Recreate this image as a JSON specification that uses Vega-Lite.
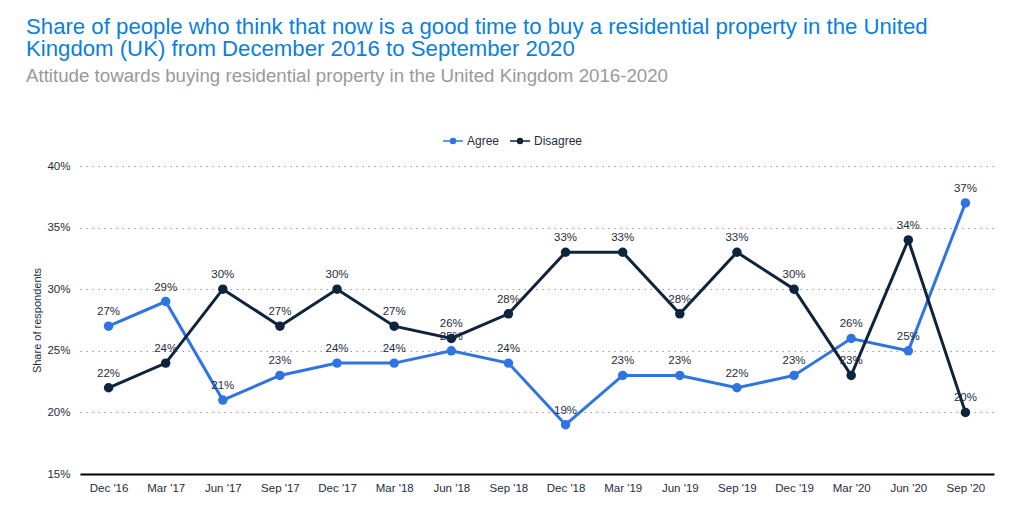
{
  "$schema": "https://vega.github.io/schema/vega-lite/v6.json",
  "autosize": "none",
  "width": 914,
  "height": 308,
  "padding": {"left": 80, "top": 166, "right": 41, "bottom": 42},
  "background": "white",
  "config": {
    "font": "Liberation Sans",
    "view": {"stroke": null}
  },
  "title": {
    "text": ["Share of people who think that now is a good time to buy a residential property in the United", "Kingdom (UK) from December 2016 to September 2020"],
    "subtitle": "Attitude towards buying residential property in the United Kingdom 2016-2020",
    "anchor": "start",
    "frame": "group",
    "dx": -54,
    "offset": 44,
    "fontSize": 22.2,
    "fontWeight": "normal",
    "lineHeight": 22.2,
    "color": "#0a7fe0",
    "subtitleFontSize": 18.7,
    "subtitleColor": "#999999",
    "subtitlePadding": 7
  },
  "data": {
    "values": [
      {"q": "Dec '16", "s": "Agree", "v": 0.27}, {"q": "Dec '16", "s": "Disagree", "v": 0.22},
      {"q": "Mar '17", "s": "Agree", "v": 0.29}, {"q": "Mar '17", "s": "Disagree", "v": 0.24},
      {"q": "Jun '17", "s": "Agree", "v": 0.21}, {"q": "Jun '17", "s": "Disagree", "v": 0.30},
      {"q": "Sep '17", "s": "Agree", "v": 0.23}, {"q": "Sep '17", "s": "Disagree", "v": 0.27},
      {"q": "Dec '17", "s": "Agree", "v": 0.24}, {"q": "Dec '17", "s": "Disagree", "v": 0.30},
      {"q": "Mar '18", "s": "Agree", "v": 0.24}, {"q": "Mar '18", "s": "Disagree", "v": 0.27},
      {"q": "Jun '18", "s": "Agree", "v": 0.25}, {"q": "Jun '18", "s": "Disagree", "v": 0.26},
      {"q": "Sep '18", "s": "Agree", "v": 0.24}, {"q": "Sep '18", "s": "Disagree", "v": 0.28},
      {"q": "Dec '18", "s": "Agree", "v": 0.19}, {"q": "Dec '18", "s": "Disagree", "v": 0.33},
      {"q": "Mar '19", "s": "Agree", "v": 0.23}, {"q": "Mar '19", "s": "Disagree", "v": 0.33},
      {"q": "Jun '19", "s": "Agree", "v": 0.23}, {"q": "Jun '19", "s": "Disagree", "v": 0.28},
      {"q": "Sep '19", "s": "Agree", "v": 0.22}, {"q": "Sep '19", "s": "Disagree", "v": 0.33},
      {"q": "Dec '19", "s": "Agree", "v": 0.23}, {"q": "Dec '19", "s": "Disagree", "v": 0.30},
      {"q": "Mar '20", "s": "Agree", "v": 0.26}, {"q": "Mar '20", "s": "Disagree", "v": 0.23},
      {"q": "Jun '20", "s": "Agree", "v": 0.25}, {"q": "Jun '20", "s": "Disagree", "v": 0.34},
      {"q": "Sep '20", "s": "Agree", "v": 0.37}, {"q": "Sep '20", "s": "Disagree", "v": 0.20}
    ]
  },
  "encoding": {
    "x": {
      "field": "q", "type": "ordinal", "sort": null,
      "scale": {"type": "point", "padding": 0.5},
      "axis": {
        "title": null, "labelAngle": 0, "ticks": false,
        "domainColor": "#000000", "domainWidth": 2,
        "labelFontSize": 11.5, "labelColor": "#1e2d3d", "labelPadding": 8,
        "grid": false
      }
    },
    "y": {
      "field": "v", "type": "quantitative",
      "scale": {"domain": [0.15, 0.4], "nice": false, "zero": false},
      "axis": {
        "title": "Share of respondents", "format": ".0%", "values": [0.15, 0.2, 0.25, 0.3, 0.35, 0.4],
        "domain": false, "ticks": false,
        "labelFontSize": 11.5, "labelColor": "#1e2d3d", "labelPadding": 10,
        "titleFontSize": 11, "titleFontWeight": "normal", "titleColor": "#1e2d3d", "titlePadding": 4,
        "gridColor": "#999999", "gridDash": [1.5, 4.5], "gridWidth": 1
      }
    },
    "color": {
      "field": "s", "type": "nominal",
      "scale": {"domain": ["Agree", "Disagree"], "range": ["#2f74e2", "#0e243d"]},
      "legend": {
        "title": null, "orient": "none", "direction": "horizontal",
        "legendX": 362, "legendY": -36,
        "labelFontSize": 12, "labelColor": "#1e2d3d",
        "symbolType": "M-1,0H1M-0.25,0A0.25,0.25,0,1,1,0.25,0A0.25,0.25,0,1,1,-0.25,0Z",
        "symbolSize": 400, "symbolStrokeWidth": 1.5, "columnPadding": 7, "labelOffset": 3,
        "encode": {"symbols": {"update": {"fill": {"scale": "color", "field": "value"}, "stroke": {"scale": "color", "field": "value"}}}}
      }
    }
  },
  "layer": [
    {"mark": {"type": "line", "strokeWidth": 3}},
    {"mark": {"type": "point", "filled": true, "opacity": 1, "size": 90}},
    {
      "mark": {"type": "text", "dy": -14, "fontSize": 11.5, "color": "#1e2d3d"},
      "encoding": {
        "text": {"field": "v", "type": "quantitative", "format": ".0%"},
        "color": {"value": "#1e2d3d"}
      }
    }
  ]
}
